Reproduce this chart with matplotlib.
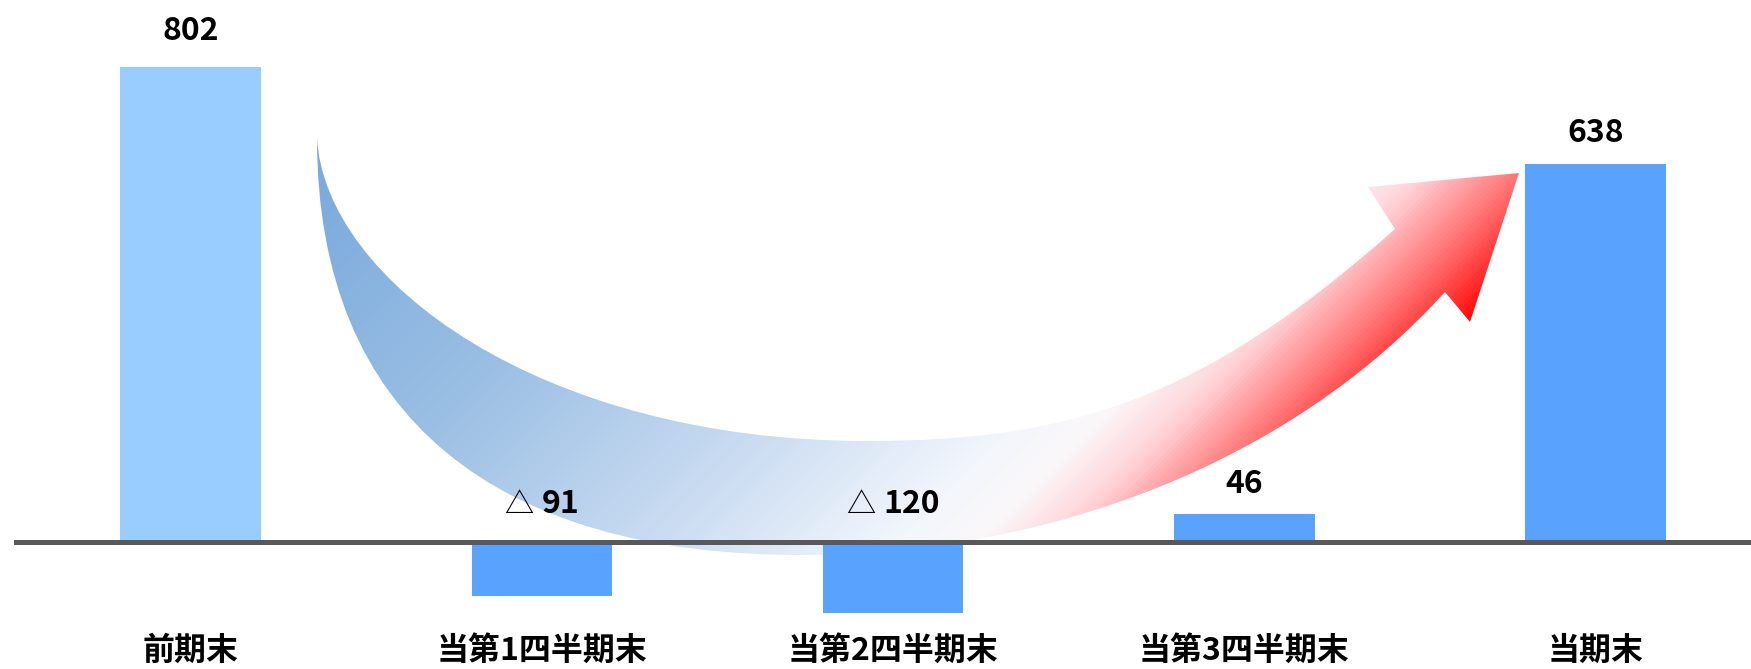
import matplotlib
matplotlib.use("Agg")
import matplotlib.pyplot as plt
from matplotlib.path import Path
from matplotlib.patches import PathPatch
from matplotlib.colors import LinearSegmentedColormap
from matplotlib.offsetbox import TextArea, HPacker, AnnotationBbox
import numpy as np

plt.rcParams['font.family'] = ['Noto Sans CJK JP', 'DejaVu Sans']

# data
categories = ["前期末", "当第1四半期末", "当第2四半期末", "当第3四半期末", "当期末"]
values = [802, -91, -120, 46, 638]
bar_colors = ["#99CCFF", "#59A3FF", "#59A3FF", "#59A3FF", "#59A3FF"]
label_gap_px = [36, 38, 38, 30, 31]

W, H = 1751, 669
fig = plt.figure(figsize=(W / 100, H / 100), dpi=100)

# decorative curved arrow, drawn behind the bars (pixel coordinates)
bg = fig.add_axes([0, 0, 1, 1], zorder=0)
bg.set_xlim(0, W)
bg.set_ylim(H, 0)
bg.axis('off')

verts = [
    (317, 138),
    (317, 420), (500, 555), (800, 555),
    (1050, 555), (1291, 462), (1445, 292),
    (1470, 322), (1519, 173), (1368, 187), (1395, 229),
    (1200, 402), (1067, 441), (867, 441),
    (540, 441), (325, 280), (317, 138),
    (317, 138),
]
codes = ([Path.MOVETO] + [Path.CURVE4] * 6 + [Path.LINETO] * 4
         + [Path.CURVE4] * 6 + [Path.CLOSEPOLY])
arrow = PathPatch(Path(verts, codes), facecolor='none', edgecolor='none',
                  transform=bg.transData)
bg.add_patch(arrow)

stops = [
    (0.00, "#78A8DC"),
    (0.30, "#9BBFE4"),
    (0.55, "#CADCF2"),
    (0.73, "#F2F6FC"),
    (0.79, "#FBF8FA"),
    (0.85, "#FFD3D8"),
    (0.93, "#FF6A6A"),
    (1.00, "#FF0000"),
]
cmap = LinearSegmentedColormap.from_list("arrow_grad", stops)
xx, yy = np.meshgrid(np.arange(W) + 0.5, np.arange(H) + 0.5)
grad = np.clip((xx + yy - 455) / 1345, 0, 1)
img = bg.imshow(grad, cmap=cmap, extent=(0, W, H, 0), vmin=0, vmax=1,
                interpolation='nearest', aspect='auto')
img.set_clip_path(arrow)

# bars
ax = fig.add_axes([14 / W, 0, 1 - 14 / W, 1], zorder=1)
ax.set_facecolor('none')
x = np.arange(len(categories))
ax.bar(x, values, width=0.4, color=bar_colors, zorder=2)
ax.axhline(0, color='#595959', lw=3.6, zorder=3)
ax.set_xlim(-0.5025, 4.4427)
ax.set_ylim(-215, 915)
ax.axis('off')

for i, (v, gap) in enumerate(zip(values, label_gap_px)):
    if v >= 0:
        ax.annotate(f"{v}", (i, v), xytext=(0, gap), textcoords='offset pixels',
                    ha='center', va='center', fontsize=23, fontweight='bold',
                    zorder=4)
    else:
        tri = TextArea("△", textprops=dict(fontsize=21, fontweight='normal'))
        num = TextArea(f"{abs(v)}", textprops=dict(fontsize=23, fontweight='bold'))
        box = HPacker(children=[tri, num], align='baseline', pad=0, sep=6)
        ab = AnnotationBbox(box, (i, 0), xybox=(0, gap), xycoords='data',
                            boxcoords='offset pixels', frameon=False, pad=0,
                            box_alignment=(0.5, 0.5), zorder=4)
        ax.add_artist(ab)

for i, name in enumerate(categories):
    ax.text(i, -185, name, ha='center', va='center', fontsize=23,
            fontweight='bold')

fig.savefig("out.png", dpi=100)
